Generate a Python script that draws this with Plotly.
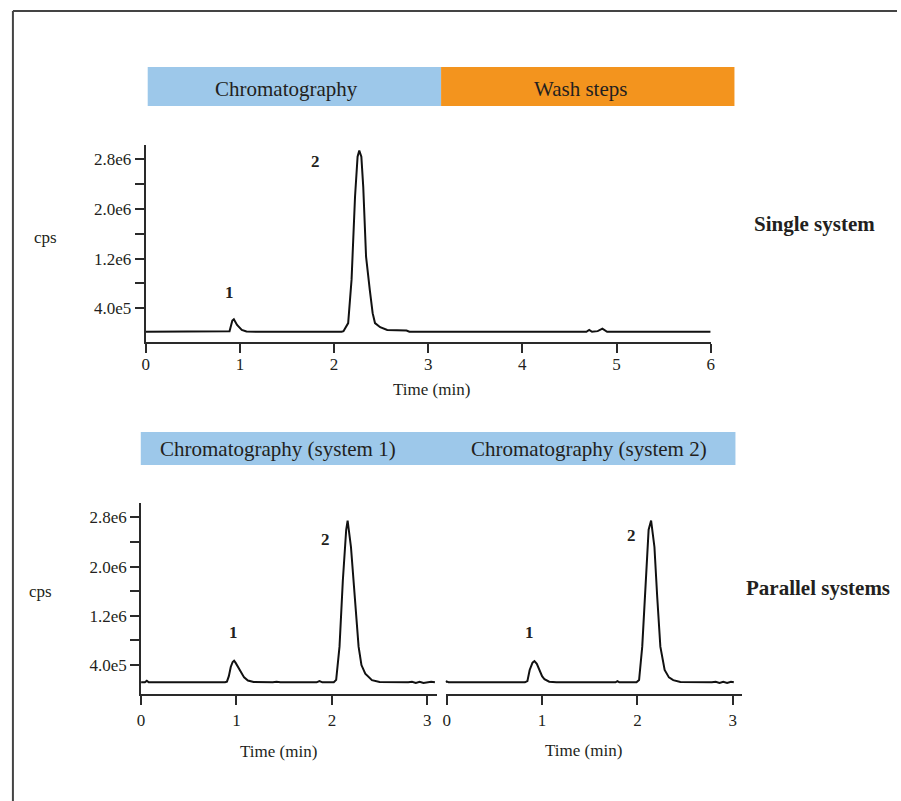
import plotly.graph_objects as go

W, H = 901, 801

# ---------------- data (cps in units of 1e6) ----------------
single_t = [0.00, 0.85, 0.89, 0.92, 0.936, 0.97, 1.02, 1.07, 1.20,
            2.08, 2.10, 2.15, 2.186, 2.223, 2.25, 2.268, 2.29, 2.31, 2.34, 2.38,
            2.41, 2.435, 2.49, 2.565, 2.77, 2.80,
            4.68, 4.71, 4.74, 4.80, 4.85, 4.90, 6.00]
single_cps = [0.02, 0.02, 0.03, 0.20, 0.22, 0.13, 0.05, 0.025, 0.02,
              0.02, 0.03, 0.16, 0.86, 2.20, 2.84, 2.94, 2.84, 2.36, 1.23, 0.69,
              0.32, 0.16, 0.093, 0.05, 0.04, 0.02,
              0.02, 0.05, 0.02, 0.03, 0.07, 0.02, 0.02]

sys1_t = [0.00, 0.04, 0.06, 0.08, 0.88, 0.90, 0.92, 0.94, 0.96, 0.975, 0.99,
          1.02, 1.05, 1.08, 1.12, 1.18, 1.38, 1.42, 1.46, 1.84, 1.87, 1.90,
          2.02, 2.045, 2.08, 2.115, 2.15, 2.165, 2.20, 2.24, 2.28, 2.31, 2.35,
          2.42, 2.50, 2.80, 2.84, 2.88, 2.92, 2.96, 3.00, 3.04, 3.08]
sys1_cps = [0.12, 0.12, 0.145, 0.12, 0.12, 0.13, 0.22, 0.37, 0.45, 0.47, 0.44,
            0.36, 0.27, 0.20, 0.15, 0.125, 0.12, 0.13, 0.12, 0.12, 0.14, 0.12,
            0.12, 0.16, 0.70, 1.78, 2.60, 2.75, 2.32, 1.51, 0.70, 0.40, 0.26,
            0.156, 0.125, 0.12, 0.13, 0.11, 0.13, 0.11, 0.12, 0.13, 0.12]

sys2_t = [-0.01, 0.00, 0.02, 0.82, 0.846, 0.87, 0.90, 0.92, 0.945, 0.973, 1.00,
          1.025, 1.075, 1.15, 1.33, 1.35, 1.37, 1.77, 1.79, 1.81,
          1.99, 2.017, 2.05, 2.09, 2.117, 2.143, 2.178, 2.207, 2.24, 2.285,
          2.33, 2.375, 2.45, 2.78, 2.82, 2.86, 2.90, 2.94, 2.98, 3.01]
sys2_cps = [0.12, 0.135, 0.12, 0.12, 0.14, 0.32, 0.44, 0.465, 0.42, 0.32, 0.22,
            0.17, 0.13, 0.12, 0.12, 0.13, 0.12, 0.12, 0.14, 0.12,
            0.12, 0.156, 0.70, 1.78, 2.60, 2.75, 2.32, 1.51, 0.70, 0.32,
            0.20, 0.156, 0.125, 0.12, 0.13, 0.11, 0.13, 0.11, 0.13, 0.12]

y_tickvals = [0.4e6, 1.2e6, 2.0e6, 2.8e6]
y_ticktext = ["4.0e5", "1.2e6", "2.0e6", "2.8e6"]
y_minor = [0.8e6, 1.6e6, 2.4e6]
top_xticks = [0, 1, 2, 3, 4, 5, 6]
bot_xticks = [0, 1, 2, 3]

# ---------------- helpers ----------------
def px(x):
    return x / W

def py(y):
    return 1 - y / H

FONT = "Liberation Serif"
TXT = "#231f20"
AX = "#2a2a2a"
BLUE = "#9dc8ea"
ORANGE = "#f3941e"

fig = go.Figure()
line = dict(color="#111111", width=2)
fig.add_trace(go.Scatter(x=single_t, y=[v * 1e6 for v in single_cps], mode="lines",
                         line=line, xaxis="x", yaxis="y", showlegend=False))
fig.add_trace(go.Scatter(x=sys1_t, y=[v * 1e6 for v in sys1_cps], mode="lines",
                         line=line, xaxis="x2", yaxis="y2", showlegend=False))
fig.add_trace(go.Scatter(x=sys2_t, y=[v * 1e6 for v in sys2_cps], mode="lines",
                         line=line, xaxis="x3", yaxis="y3", showlegend=False))

tickfont = dict(family=FONT, size=17, color=TXT)

def xax(domain, rng, anchor, standoff):
    return dict(domain=domain, range=rng, anchor=anchor, showgrid=False, zeroline=False,
                showline=True, linecolor=AX, linewidth=2, ticks="outside", ticklen=9,
                tickwidth=2, tickcolor=AX, tickvals=top_xticks if rng[1] > 4 else bot_xticks,
                tickfont=tickfont, ticklabelstandoff=standoff)

def yax(domain, rng, anchor, visible=True):
    d = dict(domain=domain, range=rng, anchor=anchor, showgrid=False, zeroline=False)
    if visible:
        d.update(showline=True, linecolor=AX, linewidth=2, ticks="outside", ticklen=9,
                 tickwidth=2, tickcolor=AX, tickmode="array", tickvals=y_tickvals,
                 ticktext=y_ticktext, tickfont=tickfont,
                 minor=dict(tickmode="array", tickvals=y_minor, ticks="outside",
                            ticklen=9, tickwidth=2, tickcolor=AX))
    else:
        d.update(visible=False)
    return d

top_y = [py(341.7), py(145)]
bot_y = [py(694), py(502.7)]

fig.update_layout(
    width=W, height=H, margin=dict(l=0, r=0, t=0, b=0),
    paper_bgcolor="white", plot_bgcolor="white",
    xaxis=xax([px(143), px(713)], [0, 6], "y", -3),
    yaxis=yax(top_y, [-0.14e6, 3.03e6], "x"),
    xaxis2=xax([px(138.3), px(436.7)], [0, 3.1], "y2", 1),
    yaxis2=yax(bot_y, [-0.07e6, 3.04e6], "x2"),
    xaxis3=xax([px(445.5), px(745)], [-0.012, 3.1], "y3", 1),
    yaxis3=yax(bot_y, [-0.07e6, 3.04e6], "x3", visible=False),
)

shapes = []
def rect(x0, y0, x1, y1, color):
    shapes.append(dict(type="rect", xref="paper", yref="paper", x0=px(x0), x1=px(x1),
                       y0=py(y1), y1=py(y0), fillcolor=color, line=dict(width=0), layer="below"))

rect(145, 67, 441, 106, BLUE)
rect(441, 67, 737, 106, ORANGE)
rect(138, 432, 738, 465, BLUE)
# frame lines (top and left)
shapes.append(dict(type="line", xref="paper", yref="paper", x0=px(9), x1=1, y0=py(11), y1=py(11),
                   line=dict(color="#444444", width=2)))
shapes.append(dict(type="line", xref="paper", yref="paper", x0=px(9), x1=px(9), y0=py(11), y1=0,
                   line=dict(color="#444444", width=2)))
fig.update_layout(shapes=shapes)

anns = []
def text(x, y, s, size, bold=False, xanchor="center"):
    anns.append(dict(x=px(x), y=py(y), xref="paper", yref="paper", text=f"<b>{s}</b>" if bold else s,
                     showarrow=False, xanchor=xanchor, yanchor="middle",
                     font=dict(family=FONT, size=size, color=TXT)))

text(285, 89, "Chromatography", 21)
text(582, 89, "Wash steps", 21)
text(276, 449, "Chromatography (system 1)", 21)
text(590, 449, "Chromatography (system 2)", 21)
text(818, 224, "Single system", 21, bold=True)
text(821, 588, "Parallel systems", 21, bold=True)
text(42, 237, "cps", 17)
text(37, 591, "cps", 17)
text(431, 389, "Time (min)", 17)
text(277, 751, "Time (min)", 17)
text(585, 750, "Time (min)", 17)
text(228, 292, "1", 17, bold=True)
text(314, 161, "2", 17, bold=True)
text(232, 632, "1", 17, bold=True)
text(324, 539, "2", 17, bold=True)
text(530, 632, "1", 17, bold=True)
text(633, 535, "2", 17, bold=True)
fig.update_layout(annotations=anns)

fig.write_html("out.html", config={"displayModeBar": False},
               post_script="document.body.style.margin='0';document.body.style.overflow='hidden';")
